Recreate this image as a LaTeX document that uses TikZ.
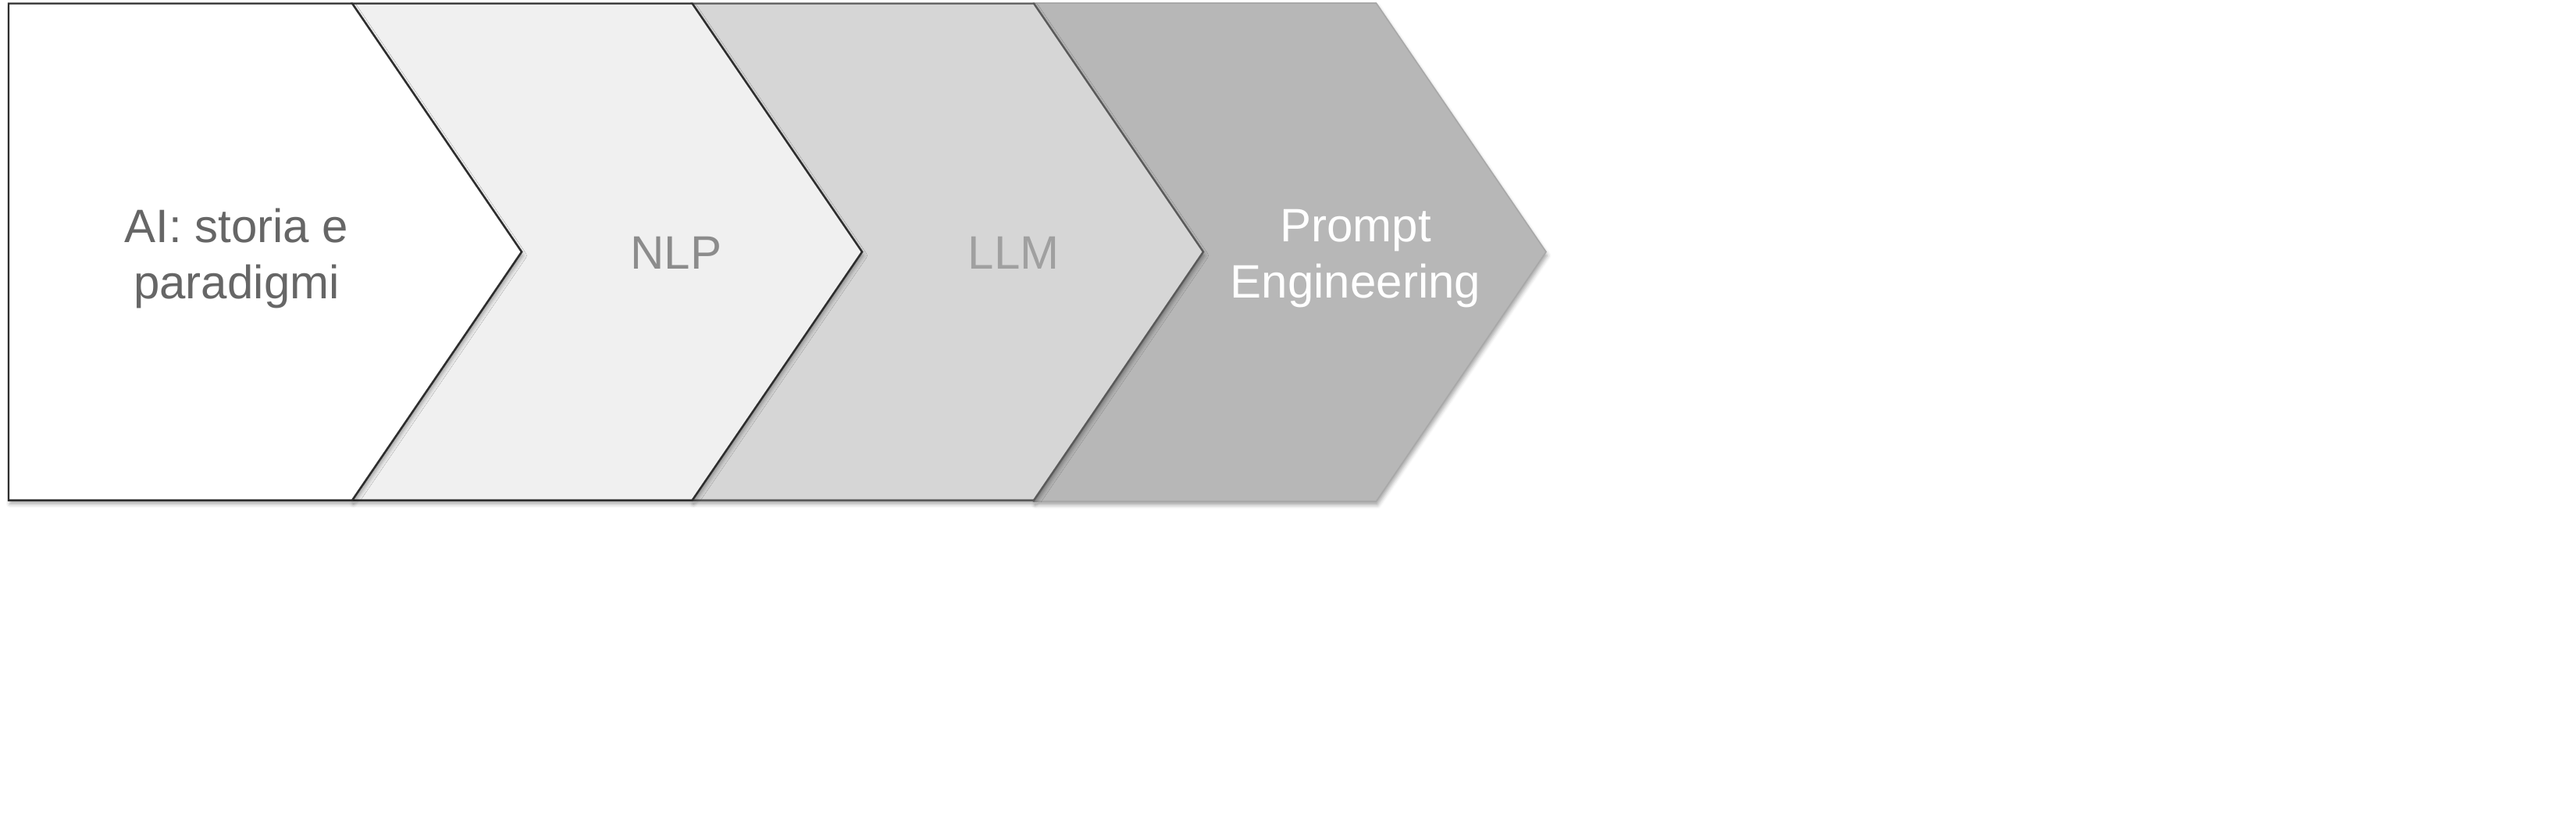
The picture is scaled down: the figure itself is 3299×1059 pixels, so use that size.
\documentclass[tikz,border=0pt]{standalone}
\usepackage{fontspec}
\setmainfont{Liberation Sans}
\usetikzlibrary{shadows.blur}
\definecolor{edgedark}{HTML}{2E2E2E}
\definecolor{edgemid}{HTML}{5A5A5A}
\definecolor{edgelight}{HTML}{A8A8A8}
\definecolor{fillA}{HTML}{FFFFFF}
\definecolor{fillB}{HTML}{F0F0F0}
\definecolor{fillC}{HTML}{D6D6D6}
\definecolor{fillD}{HTML}{B7B7B7}
\definecolor{txtA}{HTML}{666666}
\definecolor{txtB}{HTML}{8C8C8C}
\definecolor{txtC}{HTML}{A0A0A0}
\begin{document}
\begin{tikzpicture}[x=0.25pt,y=-0.25pt,
  piece/.style={line width=0.6pt, line join=miter,
    blur shadow={shadow xshift=0.4pt, shadow yshift=-1.2pt, shadow blur radius=1.2pt, shadow opacity=35}},
  lbl/.style={font=\fontsize{15}{18}\selectfont, align=center, inner sep=0pt}]
\useasboundingbox (0,0) rectangle (3299,1059);
% piece 4
\path[piece, fill=fillD, draw=edgelight, line width=0.4pt]
  (1324,4) -- (1762.5,4) -- (1980,322.5) -- (1762.5,642) -- (1324,642) -- (1541,322.5) -- cycle;
% piece 3
\path[piece, fill=fillC, draw=edgemid]
  (886.5,4.5) -- (1324,4.5) -- (1541,322.5) -- (1324,640.6) -- (886.5,640.6) -- (1104,322.5) -- cycle;
% piece 2
\path[piece, fill=fillB, draw=edgedark]
  (451,4.5) -- (886.5,4.5) -- (1104,322.5) -- (886.5,640.6) -- (451,640.6) -- (668,322.5) -- cycle;
% piece 1
\path[piece, fill=fillA, draw=edgedark]
  (11,4.5) -- (451,4.5) -- (668,322.5) -- (451,640.6) -- (11,640.6) -- cycle;
\node[lbl, text=txtA] (ai) at (303,331) {AI: storia e\\paradigmi};
\node[lbl, text=txtB] (nlp) at (866,323.5) {NLP};
\node[lbl, text=txtC] (llm) at (1298,323.5) {LLM};
\node[lbl, text=white] (pe) at (1736,331) {Prompt\\Engineering};
\end{tikzpicture}
\end{document}
